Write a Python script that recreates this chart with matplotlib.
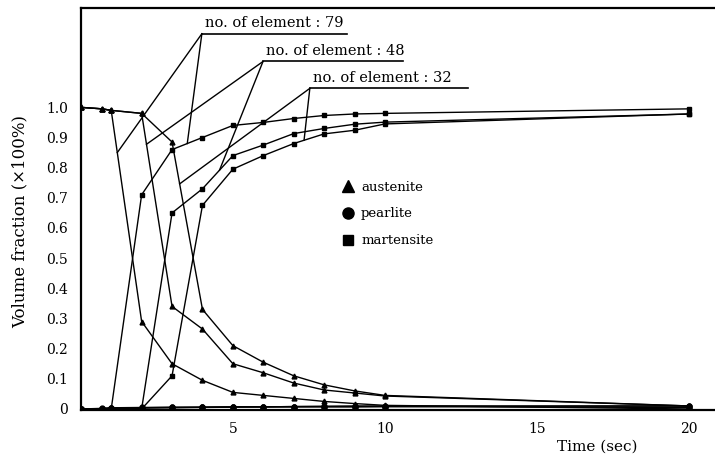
import numpy as np
import matplotlib
matplotlib.use('Agg')
from matplotlib import pyplot as plt
from matplotlib.lines import Line2D

plt.rcParams['font.family'] = ['DejaVu Serif']

# time steps (sec)
t = [0, 0.7, 1, 2, 3, 4, 5, 6, 7, 8, 9, 10, 20]

# no. of element : 79
aus_79 = [1.0, 0.995, 0.99, 0.29, 0.15, 0.095, 0.055, 0.045, 0.035, 0.025, 0.018, 0.012, 0.0]
pea_79 = [0.0, 0.002, 0.004, 0.005, 0.006, 0.006, 0.007, 0.007, 0.007, 0.007, 0.007, 0.008, 0.005]
mar_79 = [0.0, 0.0, 0.0, 0.71, 0.86, 0.90, 0.94, 0.95, 0.963, 0.973, 0.978, 0.98, 0.995]

# no. of element : 48
aus_48 = [1.0, 0.995, 0.99, 0.98, 0.34, 0.265, 0.15, 0.12, 0.086, 0.063, 0.053, 0.043, 0.01]
pea_48 = [0.0, 0.001, 0.003, 0.004, 0.005, 0.006, 0.007, 0.007, 0.008, 0.008, 0.008, 0.008, 0.01]
mar_48 = [0.0, 0.0, 0.0, 0.0, 0.65, 0.73, 0.84, 0.875, 0.913, 0.93, 0.944, 0.951, 0.978]

# no. of element : 32
aus_32 = [1.0, 0.995, 0.99, 0.98, 0.885, 0.33, 0.21, 0.155, 0.11, 0.08, 0.06, 0.045, 0.01]
pea_32 = [0.0, 0.001, 0.002, 0.003, 0.004, 0.005, 0.006, 0.007, 0.008, 0.009, 0.01, 0.01, 0.01]
mar_32 = [0.0, 0.0, 0.0, 0.0, 0.11, 0.675, 0.795, 0.84, 0.88, 0.912, 0.924, 0.945, 0.978]

cases = [('79', aus_79, pea_79, mar_79),
         ('48', aus_48, pea_48, mar_48),
         ('32', aus_32, pea_32, mar_32)]

# label anchor (x, y) and the times on the austenite / martensite curves it points at
label_pos = {'79': (3.98, 1.244), '48': (5.99, 1.152), '32': (7.53, 1.063)}
label_end = {'79': 8.75, '48': 10.6, '32': 12.73}
point_t = {'79': (1.2, 3.5), '48': (2.16, 4.56), '32': (3.25, 7.34)}

xticks = [5, 10, 15, 20]
yticks = [0, 0.1, 0.2, 0.3, 0.4, 0.5, 0.6, 0.7, 0.8, 0.9, 1.0]
ytick_labels = ['0', '0.1', '0.2', '0.3', '0.4', '0.5', '0.6', '0.7', '0.8', '0.9', '1.0']

fig = plt.figure(figsize=(7.15, 4.59), dpi=100)
ax = fig.add_axes([0.113, 0.107, 0.887, 0.876])

for name, aus, pea, mar in cases:
    ax.plot(t, aus, color='black', lw=1.0, marker='^', ms=3.5)
    ax.plot(t, pea, color='black', lw=1.0, marker='o', ms=3.5)
    ax.plot(t, mar, color='black', lw=1.0, marker='s', ms=3)

    lx, ly = label_pos[name]
    ax.plot([lx, label_end[name]], [ly, ly], color='black', lw=1.2)
    ax.text(lx + 0.1, ly + 0.012, 'no. of element : ' + name, fontsize=10.5,
            ha='left', va='bottom')
    ta, tm = point_t[name]
    ax.plot([lx, ta], [ly, np.interp(ta, t, aus)], color='black', lw=1.0)
    ax.plot([lx, tm], [ly, np.interp(tm, t, mar)], color='black', lw=1.0)

ax.set_xlim(0, 20.85)
ax.set_ylim(-0.003, 1.33)
ax.set_xticks(xticks)
ax.set_yticks(yticks)
ax.set_yticklabels(ytick_labels)
ax.tick_params(length=0, labelsize=10)
ax.tick_params(axis='x', pad=9)
ax.tick_params(axis='y', pad=9)
ax.spines['right'].set_visible(False)
for s in ['left', 'top', 'bottom']:
    ax.spines[s].set_linewidth(1.6)

ax.set_xlabel('Time (sec)', fontsize=11)
ax.xaxis.set_label_coords(0.814, -0.075)
ax.set_ylabel('Volume fraction (×100%)', fontsize=12)
ax.yaxis.set_label_coords(-0.083, 0.468)

handles = [Line2D([], [], color='black', marker='^', ls='none', ms=8),
           Line2D([], [], color='black', marker='o', ls='none', ms=8),
           Line2D([], [], color='black', marker='s', ls='none', ms=7)]
ax.legend(handles, ['austenite', 'pearlite', 'martensite'], frameon=False,
          loc='upper left', bbox_to_anchor=(0.394, 0.60), fontsize=9.5,
          handlelength=0.8, handletextpad=0.6, labelspacing=1.05)

fig.savefig('out.png', dpi=100)
